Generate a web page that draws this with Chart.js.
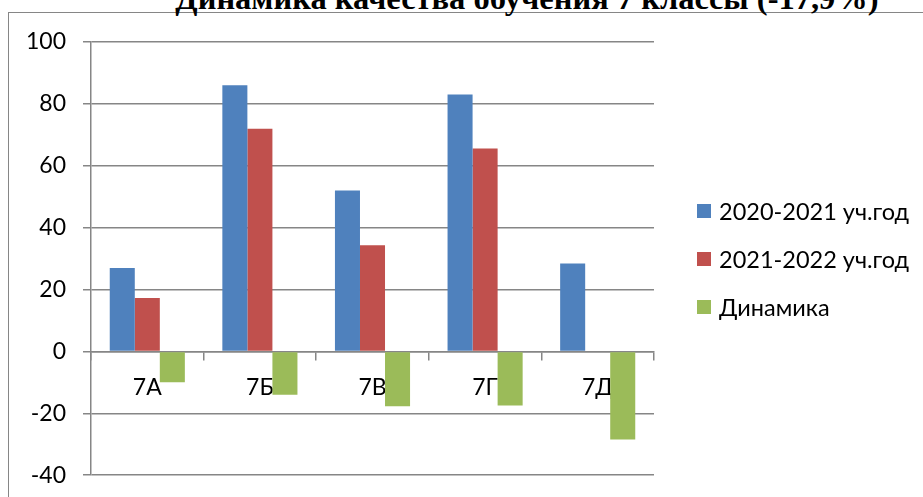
<!DOCTYPE html>
<html>
<head>
<meta charset="utf-8">
<script src="https://cdn.jsdelivr.net/npm/chart.js@4"></script>
<style>
  body { margin: 0; width: 923px; height: 497px; overflow: hidden; background: #fff; position: relative; }
  #frame { position: absolute; left: 8px; top: 12px; width: 1000px; height: 1000px; border: 1px solid #868686; }
  #title { position: absolute; left: 27px; top: -18px; width: 1000px; text-align: center;
           font: bold 32.5px/32px "Liberation Serif", serif; color: #000; white-space: nowrap; }
  #chart { position: absolute; left: 0; top: 0; }
  #legend { position: absolute; left: 697px; top: 197px; font: 23.5px Lato, sans-serif; color: #000; }
  .item { height: 48px; display: flex; align-items: flex-start; }
  .box { width: 14px; height: 14px; margin: 7px 8px 0 0; }
</style>
</head>
<body>
<div id="frame"></div>
<div id="title">Динамика качества обучения 7 классы (-17,9%)</div>
<canvas id="chart" width="923" height="506"></canvas>
<div id="legend"></div>
<script>
const classes = ["7А", "7Б", "7В", "7Г", "7Д"]
const seriesNames = ["2020-2021 уч.год", "2021-2022 уч.год", "Динамика"]
const year2021 = [27, 86, 52, 83, 28.4]
const year2022 = [17.3, 72, 34.3, 65.6, 0]
const dynamics = [-10, -14, -17.7, -17.5, -28.5]
const colors = ['#4F81BD', '#C0504D', '#9BBB59']

const yMin = -40
const yMax = 100
const yStep = 20

const gridColor = '#868686'
const tickFont = { family: 'Lato', size: 23 }

const data = {
    labels: classes,
    datasets: [year2021, year2022, dynamics].map((values, i) => ({
        label: seriesNames[i],
        data: values,
        backgroundColor: colors[i],
        borderWidth: 0,
        categoryPercentage: 0.667,
        barPercentage: 1,
    })),
}

const config = {
    type: 'bar',
    data: data,
    options: {
        responsive: false,
        animation: false,
        devicePixelRatio: 1,
        layout: { padding: { left: 0, top: 42, right: 269, bottom: 13 } },
        plugins: {
            legend: { display: false },
            tooltip: { enabled: false },
        },
        scales: {
            x: {
                position: { y: 0 },
                grid: { drawOnChartArea: false, color: gridColor, lineWidth: 1.5, tickLength: 8 },
                border: { color: gridColor, width: 1.5 },
                ticks: { color: '#000', font: tickFont, padding: 14 },
            },
            y: {
                min: yMin,
                max: yMax,
                afterFit: (scale) => { scale.width = 91 },
                grid: { color: gridColor, lineWidth: 1.5, tickLength: 8 },
                border: { color: gridColor, width: 1.5 },
                ticks: { stepSize: yStep, color: '#000', font: tickFont, padding: 17 },
            },
        },
    },
}

const chart = new Chart(document.getElementById("chart"), config)

// legend as html, built from the datasets
const legend = document.getElementById("legend")
chart.data.datasets.forEach(ds => {
    const row = document.createElement("div")
    row.className = "item"
    const box = document.createElement("div")
    box.className = "box"
    box.style.background = ds.backgroundColor
    const txt = document.createElement("span")
    txt.textContent = ds.label
    row.appendChild(box)
    row.appendChild(txt)
    legend.appendChild(row)
})
</script>
</body>
</html>
